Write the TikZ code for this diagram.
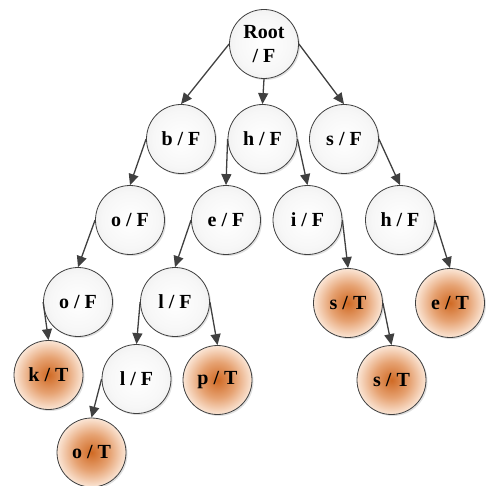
\documentclass[tikz,border=0pt]{standalone}
\usepackage{fontspec}
\setmainfont{Liberation Serif}
\usetikzlibrary{arrows.meta,shadows}
\definecolor{edgecol}{RGB}{64,64,64}
\definecolor{orangein}{RGB}{208,106,36}
\definecolor{orangemid}{RGB}{230,162,114}
\definecolor{orangeout}{RGB}{251,230,214}
\definecolor{graymid}{RGB}{247,247,247}
\definecolor{grayout}{RGB}{234,234,234}
\pgfdeclareradialshading{grayball}{\pgfpoint{0bp}{0bp}}{color(0bp)=(white); color(20bp)=(graymid); color(34bp)=(grayout); color(50bp)=(grayout)}
\pgfdeclareradialshading{orangeball}{\pgfpoint{0bp}{0bp}}{color(0bp)=(orangein); color(13bp)=(orangemid); color(25bp)=(orangeout); color(50bp)=(orangeout)}
\tikzset{
  tnode/.style={circle,draw=edgecol,line width=0.8pt,minimum size=69pt,inner sep=0pt,
    font=\fontsize{20}{24}\selectfont\bfseries,text=black,
    drop shadow={shadow xshift=1.5pt,shadow yshift=-1.5pt,opacity=0.2,fill=black!60}},
  fnode/.style={tnode,shading=grayball},
  onode/.style={tnode,shading=orangeball},
  conn/.style={draw=edgecol,line width=1.3pt,-{Triangle[length=11pt,width=10pt]}}
}
\begin{document}
\begin{tikzpicture}[x=1pt,y=-1pt]
\useasboundingbox (0,0) rectangle (486,486);
\node[fnode,align=center] (root) at (264,44) {Root\\/ F};
\node[fnode] (b) at (181,139) {b / F};
\node[fnode] (h) at (262.5,139) {h / F};
\node[fnode] (s) at (344,139) {s / F};
\node[fnode] (o1) at (130,220) {o / F};
\node[fnode] (e) at (226,220) {e / F};
\node[fnode] (i) at (307.5,220) {i / F};
\node[fnode] (h2) at (400,220) {h / F};
\node[fnode] (o2) at (78,302) {o / F};
\node[fnode] (l1) at (175,302) {l / F};
\node[onode] (sT) at (348,303) {s / T};
\node[onode] (eT) at (450,303) {e / T};
\node[onode] (k) at (48.5,375) {k / T};
\node[fnode] (l2) at (136.5,379) {l / F};
\node[onode] (p) at (217.5,380) {p / T};
\node[onode] (sT2) at (391.5,380) {s / T};
\node[onode] (oT) at (91.5,452.5) {o / T};
\draw[conn] (root.west) -- (b.north);
\draw[conn] (root.south) -- (h.north);
\draw[conn] (root.east) -- (s.north);
\draw[conn] (b.west) -- (o1.north);
\draw[conn] (h.west) -- (e.north);
\draw[conn] (h.east) -- (i.north);
\draw[conn] (s.east) -- (h2.north);
\draw[conn] (o1.west) -- (o2.north);
\draw[conn] (e.west) -- (l1.north);
\draw[conn] (i.east) -- (sT.north);
\draw[conn] (h2.east) -- (eT.north);
\draw[conn] (o2.west) -- (k.north);
\draw[conn] (l1.west) -- (l2.north);
\draw[conn] (l1.east) -- (p.north);
\draw[conn] (sT.east) -- (sT2.north);
\draw[conn] (l2.west) -- (oT.north);
\end{tikzpicture}
\end{document}
